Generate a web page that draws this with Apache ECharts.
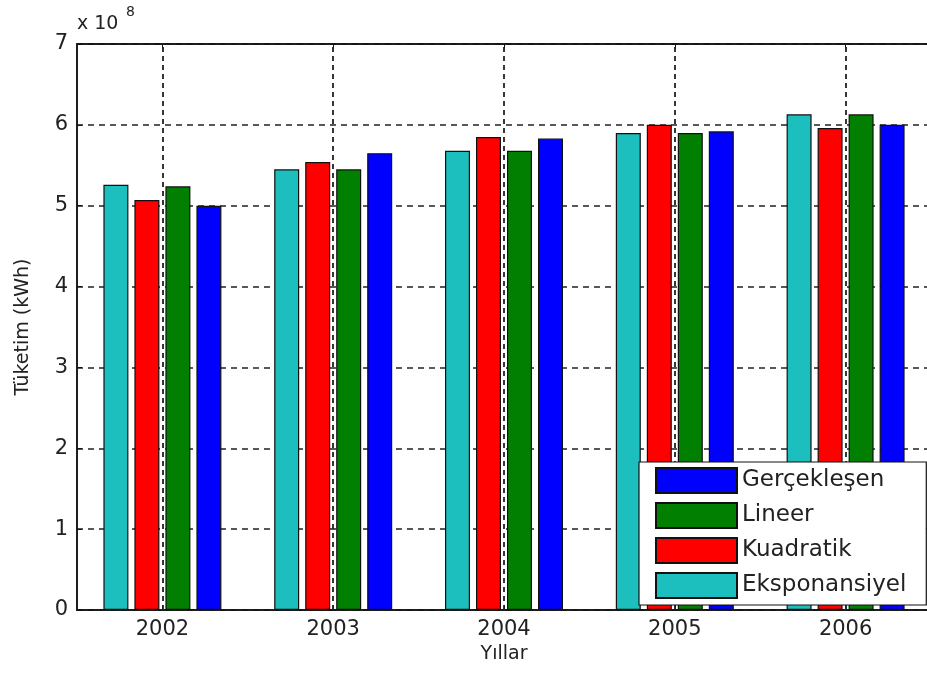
<!DOCTYPE html>
<html>
<head>
<meta charset="utf-8">
<script src="https://cdn.jsdelivr.net/npm/echarts@6/dist/echarts.min.js"></script>
<style>html,body{margin:0;padding:0;background:#fff}#c{width:927px;height:673px}</style>
</head>
<body>
<div id="c"></div>
<script>
var categories = ['2002', '2003', '2004', '2005', '2006'];
var eksponansiyel = [5.26, 5.45, 5.68, 5.90, 6.13];
var kuadratik = [5.07, 5.54, 5.85, 6.00, 5.96];
var lineer = [5.24, 5.45, 5.68, 5.90, 6.13];
var gerceklesen = [5.00, 5.65, 5.83, 5.92, 6.00];
var yTicks = [0, 1, 2, 3, 4, 5, 6, 7];
var legendOrder = ['Gerçekleşen', 'Lineer', 'Kuadratik', 'Eksponansiyel'];

var FONT = 'DejaVu Sans, sans-serif';
var chart = echarts.init(document.getElementById('c'), null, {renderer: 'canvas'});

function barSeries(name, data, color) {
  return {
    name: name, type: 'bar', data: data, z: 3,
    barWidth: 25, barGap: '24%',
    itemStyle: {color: color, borderColor: '#111', borderWidth: 1.2},
    emphasis: {disabled: true}
  };
}

chart.setOption({
  animation: false,
  backgroundColor: '#fff',
  grid: {left: 77, top: 44, width: 854, height: 566, outerBoundsMode: 'none', containLabel: false,
    show: true, borderColor: '#111', borderWidth: 1.5, backgroundColor: '#fff'},
  legend: {
    data: legendOrder, orient: 'vertical', left: 639, top: 462, z: 10,
    itemWidth: 81, itemHeight: 25, itemGap: 8, icon: 'rect',
    padding: [5, 20, 6, 16],
    backgroundColor: '#fff', borderColor: '#111', borderWidth: 1.2,
    textStyle: {fontFamily: FONT, fontSize: 23, color: '#222'},
    selectedMode: false
  },
  xAxis: [{
    type: 'category', data: categories, boundaryGap: true,
    name: 'Yıllar', nameLocation: 'middle', nameGap: 34,
    nameTextStyle: {fontFamily: FONT, fontSize: 19, color: '#222'},
    axisLine: {lineStyle: {color: '#111', width: 1.5}},
    axisTick: {show: true, inside: true, alignWithLabel: true, length: 5, lineStyle: {color: '#111'}},
    axisLabel: {fontFamily: FONT, fontSize: 21, color: '#222', margin: 9},
    splitLine: {show: false}
  }, {
    type: 'category', data: categories, position: 'top', boundaryGap: true,
    axisLine: {lineStyle: {color: '#111', width: 1.5}},
    axisTick: {show: true, inside: true, alignWithLabel: true, length: 5, lineStyle: {color: '#111'}},
    axisLabel: {show: false}, splitLine: {show: false}
  }],
  yAxis: {
    type: 'value', min: 0, max: 7, interval: 1,
    name: 'Tüketim (kWh)', nameLocation: 'middle', nameGap: 44, nameRotate: 90,
    nameTextStyle: {fontFamily: FONT, fontSize: 19, color: '#222'},
    axisLine: {show: true, lineStyle: {color: '#111', width: 1.5}},
    axisTick: {show: true, inside: true, length: 5, lineStyle: {color: '#111'}},
    axisLabel: {fontFamily: FONT, fontSize: 21, color: '#222', margin: 9,
      formatter: function (v) { return yTicks.indexOf(v) >= 0 ? String(v) : ''; }},
    splitLine: {show: true, lineStyle: {color: '#222', type: [6, 5], width: 1.5}}
  },
  series: [
    {
      name: 'grid-x', type: 'line', data: [], z: 1, silent: true,
      markLine: {
        z: 1, silent: true, symbol: ['none', 'none'], label: {show: false},
        lineStyle: {color: '#222', type: [5, 4], width: 1.8},
        emphasis: {disabled: true},
        data: categories.map(function (c) { return {xAxis: c}; })
      }
    },
    barSeries('Eksponansiyel', eksponansiyel, '#1CBEBE'),
    barSeries('Kuadratik', kuadratik, '#FF0000'),
    barSeries('Lineer', lineer, '#007F00'),
    barSeries('Gerçekleşen', gerceklesen, '#0000FF')
  ],
  graphic: [
    {type: 'text', left: 77, top: 15, style: {text: 'x 10', font: '19px ' + FONT, fill: '#222'}},
    {type: 'text', left: 126, top: 5, style: {text: '8', font: '14px ' + FONT, fill: '#222'}}
  ]
});
</script>
</body>
</html>
